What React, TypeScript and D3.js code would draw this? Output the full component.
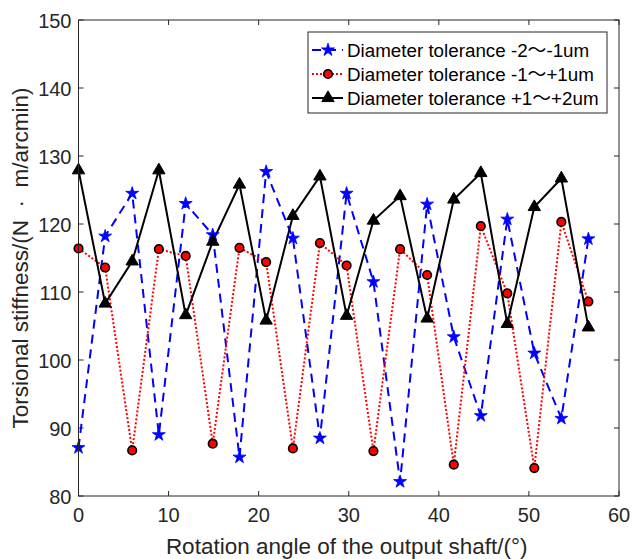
import React, { useEffect, useRef } from "react";
import * as d3 from "d3";

// rotation angle (deg)
const angles = [0, 2.96, 5.96, 8.92, 11.9, 14.9, 17.87, 20.83, 23.8, 26.8, 29.76, 32.74, 35.7, 38.7, 41.66, 44.66, 47.6, 50.6, 53.6, 56.6];

// torsional stiffness for each tolerance band
const tolA = [87.1, 118.2, 124.5, 89.0, 123.0, 118.4, 85.7, 127.7, 117.9, 88.5, 124.5, 111.5, 82.1, 122.9, 103.4, 91.8, 120.7, 101.0, 91.4, 117.8];
const tolB = [116.4, 113.6, 86.7, 116.3, 115.3, 87.7, 116.5, 114.4, 87.0, 117.2, 113.9, 86.6, 116.3, 112.5, 84.6, 119.7, 109.8, 84.1, 120.3, 108.6];
const tolC = [127.9, 108.3, 114.5, 127.9, 106.6, 117.4, 125.8, 105.8, 121.2, 127.0, 106.5, 120.5, 124.1, 106.1, 123.6, 127.5, 105.3, 122.5, 126.7, 104.8];

// legend text split around the wide tilde
const seriesNames = [
  ["Diameter tolerance -2", "-1um"],
  ["Diameter tolerance -1", "+1um"],
  ["Diameter tolerance +1", "+2um"],
];

const xTicks = [0, 10, 20, 30, 40, 50, 60];
const yTicks = [80, 90, 100, 110, 120, 130, 140, 150];

const W = 632;
const H = 559;
const FONT = "'Liberation Sans', Arial, Helvetica, sans-serif";
const CJK = "'Noto Sans CJK SC', sans-serif";
const AX = "#262626";

export default function App() {
  const svgRef = useRef<SVGSVGElement>(null);

  useEffect(() => {
    const svg = d3.select(svgRef.current);
    svg.selectAll("*").remove();

    const left = 78.5, right = 619, top = 20, bottom = 496;
    const x = d3.scaleLinear().domain([0, 60]).range([left, right]);
    const y = d3.scaleLinear().domain([80, 150]).range([bottom, top]);

    svg.append("rect").attr("width", W).attr("height", H).attr("fill", "#fff");

    // series styles
    const series = [
      { vals: tolA, color: "#0000ff", dash: "9,6", marker: "star" },
      { vals: tolB, color: "#ff0000", dash: "2,2", marker: "circle" },
      { vals: tolC, color: "#000000", dash: null, marker: "tri" },
    ];

    const drawMarker = (g, kind, cx, cy) => {
      if (kind === "star") {
        g.append("path")
          .attr("d", d3.symbol(d3.symbolStar, 52)())
          .attr("transform", `translate(${cx},${cy})`)
          .attr("fill", "#0000ff")
          .attr("stroke", "#0000ff")
          .attr("stroke-width", 0.8);
      } else if (kind === "circle") {
        g.append("circle")
          .attr("cx", cx)
          .attr("cy", cy)
          .attr("r", 4.3)
          .attr("fill", "#ff0000")
          .attr("stroke", "#000")
          .attr("stroke-width", 1.6);
      } else {
        g.append("path")
          .attr("d", d3.symbol(d3.symbolTriangle, 66)())
          .attr("transform", `translate(${cx},${cy})`)
          .attr("fill", "#000")
          .attr("stroke", "#000")
          .attr("stroke-width", 1);
      }
    };

    const line = d3
      .line<number>()
      .x((_, i) => x(angles[i]))
      .y((d) => y(d));

    const plot = svg.append("g");
    series.forEach((s) => {
      plot
        .append("path")
        .attr("d", line(s.vals))
        .attr("fill", "none")
        .attr("stroke", s.color)
        .attr("stroke-width", 2)
        .attr("stroke-dasharray", s.dash);
    });
    series.forEach((s) => {
      s.vals.forEach((v, i) => drawMarker(plot, s.marker, x(angles[i]), y(v)));
    });

    // axes box with inward ticks
    const axes = svg.append("g").attr("stroke", AX).attr("stroke-width", 1);
    axes
      .append("rect")
      .attr("x", left)
      .attr("y", top)
      .attr("width", right - left)
      .attr("height", bottom - top)
      .attr("fill", "none");
    xTicks.forEach((t) => {
      axes.append("line").attr("x1", x(t)).attr("x2", x(t)).attr("y1", bottom).attr("y2", bottom - 5);
      axes.append("line").attr("x1", x(t)).attr("x2", x(t)).attr("y1", top).attr("y2", top + 5);
    });
    yTicks.forEach((t) => {
      axes.append("line").attr("x1", left).attr("x2", left + 5).attr("y1", y(t)).attr("y2", y(t));
      axes.append("line").attr("x1", right).attr("x2", right - 5).attr("y1", y(t)).attr("y2", y(t));
    });

    const labels = svg.append("g").attr("font-family", FONT).attr("fill", AX).attr("font-size", 20);
    xTicks.forEach((t) => {
      labels
        .append("text")
        .attr("x", x(t))
        .attr("y", bottom + 26)
        .attr("text-anchor", "middle")
        .text(t);
    });
    yTicks.forEach((t) => {
      labels
        .append("text")
        .attr("x", left - 7)
        .attr("y", y(t) + 7.5)
        .attr("text-anchor", "end")
        .text(t);
    });

    labels
      .append("text")
      .attr("x", (left + right) / 2 - 2)
      .attr("y", 554)
      .attr("text-anchor", "middle")
      .attr("font-size", 22.5)
      .text("Rotation angle of the output shaft/(°)");
    labels
      .append("text")
      .attr("transform", `translate(28,${(top + bottom) / 2}) rotate(-90)`)
      .attr("text-anchor", "middle")
      .attr("font-size", 22.5)
      .text("Torsional stiffness/(N \u00a0·\u00a0 m/arcmin)");

    // legend
    const lg = svg.append("g").attr("transform", "translate(308,32)");
    lg.append("rect")
      .attr("width", 299)
      .attr("height", 81)
      .attr("fill", "#fff")
      .attr("stroke", AX)
      .attr("stroke-width", 1);
    series.forEach((s, i) => {
      const ry = 18 + i * 24;
      lg.append("line")
        .attr("x1", 4)
        .attr("x2", 35)
        .attr("y1", ry)
        .attr("y2", ry)
        .attr("stroke", s.color)
        .attr("stroke-width", 2)
        .attr("stroke-dasharray", s.dash);
      drawMarker(lg, s.marker, 20, ry);
      const txt = lg
        .append("text")
        .attr("x", 39)
        .attr("y", ry + 6.8)
        .attr("font-family", FONT)
        .attr("font-size", 18.8)
        .attr("fill", "#000");
      txt.append("tspan").text(seriesNames[i][0]);
      txt.append("tspan").attr("font-family", CJK).text("～");
      txt.append("tspan").text(seriesNames[i][1]);
    });
  }, []);

  return (
    <div style={{ position: "absolute", left: 0, top: 0 }}>
      <svg ref={svgRef} width={W} height={H} />
    </div>
  );
}
